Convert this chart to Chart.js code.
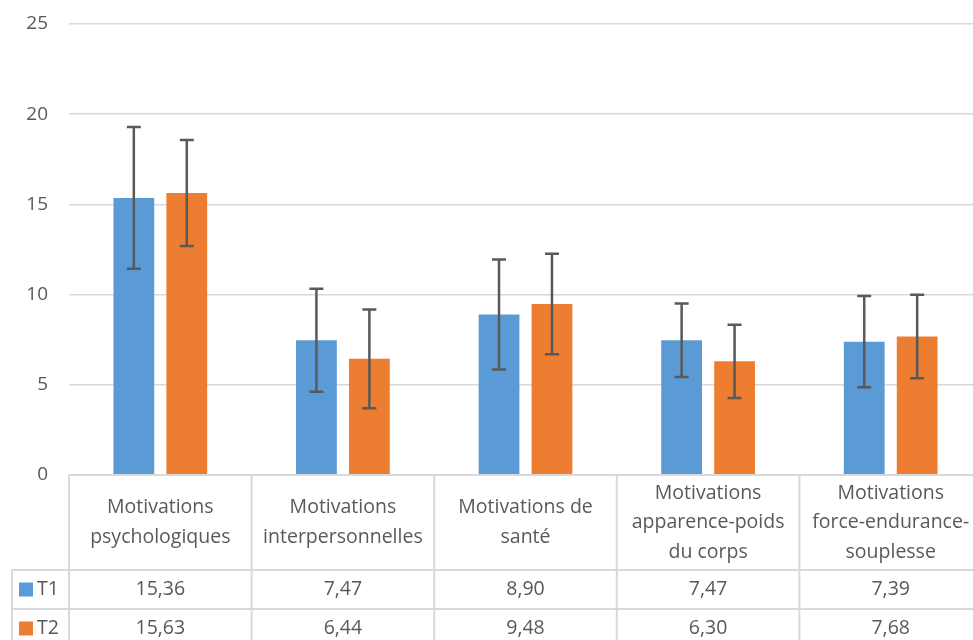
<!DOCTYPE html>
<html>
<head>
<meta charset="utf-8">
<script src="https://cdn.jsdelivr.net/npm/chart.js@4.4.1/dist/chart.umd.min.js"></script>
<style>
  html, body { margin:0; padding:0; background:#fff; overflow:hidden; }
  #wrap { position:relative; width:982px; height:640px; }
</style>
</head>
<body>
<div id="wrap"><canvas id="chart"></canvas></div>
<script>
// data
const categories = [
  ["Motivations", "psychologiques"],
  ["Motivations", "interpersonnelles"],
  ["Motivations de", "santé"],
  ["Motivations", "apparence-poids", "du corps"],
  ["Motivations", "force-endurance-", "souplesse"]
];
const seriesNames = ["T1", "T2"];
const t1 = [15.36, 7.47, 8.90, 7.47, 7.39];
const t2 = [15.63, 6.44, 9.48, 6.30, 7.68];
const t1Err = [3.93, 2.86, 3.05, 2.04, 2.53];
const t2Err = [2.94, 2.74, 2.79, 2.03, 2.31];
const yMin = 0, yMax = 25, yStep = 5;

const COLORS = { blue:"#5B9BD5", orange:"#ED7D31", text:"#595959", grid:"#d9d9d9", err:"#595959" };
const FONT = "'Open Sans', sans-serif";
const fmt = (v) => v.toFixed(2).replace(".", ",");

const errorBars = {
  id: "errorBars",
  afterDatasetsDraw(chart) {
    const { ctx, scales:{ y } } = chart;
    const errs = [t1Err, t2Err];
    ctx.save();
    ctx.strokeStyle = COLORS.err;
    ctx.lineWidth = 2.5;
    chart.data.datasets.forEach((ds, d) => {
      chart.getDatasetMeta(d).data.forEach((bar, i) => {
        const v = ds.data[i], e = errs[d][i];
        const top = y.getPixelForValue(v + e), bot = y.getPixelForValue(v - e);
        ctx.beginPath();
        ctx.moveTo(bar.x, top); ctx.lineTo(bar.x, bot);
        ctx.moveTo(bar.x - 7, top); ctx.lineTo(bar.x + 7, top);
        ctx.moveTo(bar.x - 7, bot); ctx.lineTo(bar.x + 7, bot);
        ctx.stroke();
      });
    });
    ctx.restore();
  }
};

const dataTable = {
  id: "dataTable",
  afterDraw(chart) {
    const { ctx, chartArea:a, scales:{ x } } = chart;
    const n = categories.length;
    const catW = (a.right - a.left) / n;
    const headH = 95, rowH = 39, legLeft = 12;
    const top = a.bottom, r1 = top + headH, r2 = r1 + rowH, r3 = r2 + rowH;
    ctx.save();
    ctx.strokeStyle = COLORS.grid;
    ctx.lineWidth = 2;
    ctx.beginPath();
    ctx.moveTo(a.left, top); ctx.lineTo(a.right, top);
    [r1, r2, r3].forEach(yy => { ctx.moveTo(legLeft, yy); ctx.lineTo(a.right, yy); });
    ctx.moveTo(legLeft, r1); ctx.lineTo(legLeft, r3);
    for (let i = 0; i <= n; i++) {
      const xx = a.left + i * catW;
      ctx.moveTo(xx, top); ctx.lineTo(xx, r3);
    }
    ctx.stroke();

    ctx.fillStyle = COLORS.text;
    ctx.font = "19.5px " + FONT;
    ctx.textAlign = "center";
    ctx.textBaseline = "middle";
    const lh = 29.5;
    categories.forEach((lines, i) => {
      const cx = x.getPixelForValue(i);
      const cy = (top + r1) / 2;
      lines.forEach((s, k) => {
        ctx.fillText(s, cx, cy + (k - (lines.length - 1) / 2) * lh);
      });
    });
    const rows = [t1, t2];
    const cols = [COLORS.blue, COLORS.orange];
    rows.forEach((vals, r) => {
      const cy = r1 + rowH * r + rowH / 2;
      ctx.fillStyle = cols[r];
      ctx.fillRect(19, cy - 7, 14, 14);
      ctx.fillStyle = COLORS.text;
      ctx.textAlign = "left";
      ctx.fillText(seriesNames[r], 37, cy);
      ctx.textAlign = "center";
      vals.forEach((v, i) => ctx.fillText(fmt(v), x.getPixelForValue(i), cy));
    });
    ctx.restore();
  }
};

new Chart(document.getElementById("chart"), {
  type: "bar",
  data: {
    labels: categories,
    datasets: [
      { label: seriesNames[0], data: t1, backgroundColor: COLORS.blue },
      { label: seriesNames[1], data: t2, backgroundColor: COLORS.orange }
    ]
  },
  options: {
    responsive: true,
    maintainAspectRatio: false,
    animation: false,
    layout: { padding: { top: 24, bottom: 165, left: 0, right: 0 } },
    datasets: { bar: { categoryPercentage: 0.58, barPercentage: 0.77 } },
    plugins: { legend: { display: false }, tooltip: { enabled: false } },
    scales: {
      x: { display: false },
      y: {
        min: yMin, max: yMax,
        ticks: { stepSize: yStep, color: COLORS.text, padding: 21, font: { family: FONT, size: 19 } },
        grid: { color: COLORS.grid, lineWidth: 1.5, drawTicks: false },
        border: { display: false },
        afterFit: (s) => { s.width = 69; s.paddingTop = 0; s.paddingBottom = 0; }
      }
    }
  },
  plugins: [errorBars, dataTable]
});
</script>
</body>
</html>
